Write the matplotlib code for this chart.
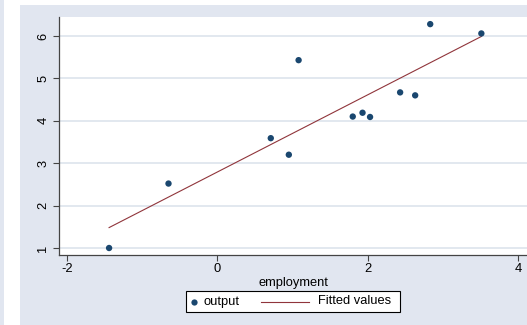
import numpy as np
import matplotlib
matplotlib.use("Agg")
import matplotlib.pyplot as plt
from matplotlib.patches import Rectangle
from matplotlib.lines import Line2D

# Observations: employment vs. output
employment = [-1.44, -0.65, 0.71, 0.95, 1.08, 1.80, 1.93, 2.03, 2.43, 2.63, 2.83, 3.51]
output = [1.00, 2.52, 3.59, 3.20, 5.43, 4.10, 4.19, 4.09, 4.67, 4.60, 6.28, 6.06]

x_ticks = [-2, 0, 2, 4]
y_ticks = [1, 2, 3, 4, 5, 6]
x_label = "employment"
legend_labels = ["output", "Fitted values"]

NAVY = "#1a476f"
MAROON = "#90353b"
REGION = "#e1e6f0"
GRID = "#dae1eb"

plt.rcParams["font.family"] = ["Liberation Sans", "DejaVu Sans"]
plt.rcParams["axes.unicode_minus"] = False
FS = 9.3

W, H = 527, 325
fig = plt.figure(figsize=(W / 100, H / 100), dpi=100)
fig.patch.set_facecolor("white")


def fx(px):
    return px / W


def fy(py):
    return 1 - py / H


# graph region background
fig.add_artist(Rectangle((0, 0), fx(4), 1, transform=fig.transFigure,
                         facecolor=REGION, edgecolor="none", zorder=0))
fig.add_artist(Rectangle((fx(20), 0), 1 - fx(20), fy(5), transform=fig.transFigure,
                         facecolor=REGION, edgecolor="none", zorder=0))

ax = fig.add_axes([fx(59), fy(255), 1 - fx(59), fy(17) - fy(255)])
ax.set_facecolor("white")

# least-squares fit
x = np.array(employment)
y = np.array(output)
slope, intercept = np.polyfit(x, y, 1)
xs = np.array([x.min(), x.max()])
ax.plot(xs, intercept + slope * xs, color=MAROON, lw=0.8, zorder=3)
ax.scatter(x, y, s=21, color=NAVY, edgecolors="none", zorder=4)

ax.set_xlim(-2.106, 4.117)
ax.set_ylim(0.835, 6.448)
ax.set_xticks(x_ticks)
ax.set_yticks(y_ticks)
ax.set_yticklabels([str(v) for v in y_ticks], rotation=90, va="center")
ax.grid(axis="y", color=GRID, lw=1.1)
ax.set_axisbelow(True)

for side in ["top", "right"]:
    ax.spines[side].set_visible(False)
for side in ["left", "bottom"]:
    ax.spines[side].set_color("#444444")
    ax.spines[side].set_linewidth(0.9)

ax.tick_params(axis="both", direction="out", length=4, width=0.8,
               color="#444444", labelsize=FS, labelcolor="black")
ax.tick_params(axis="x", pad=2)
ax.tick_params(axis="y", pad=3)
ax.set_xlabel(x_label, fontsize=FS, labelpad=1.5)

# legend box below the plot
fig.add_artist(Rectangle((fx(186), fy(312)), fx(400) - fx(186), fy(291) - fy(312),
                         transform=fig.transFigure, facecolor="white",
                         edgecolor="black", lw=0.8, zorder=5))
ly = fy(301.5)
fig.add_artist(Line2D([fx(194)], [ly], transform=fig.transFigure, marker="o",
                      markersize=4.5, color=NAVY, markeredgewidth=0, zorder=6))
fig.text(fx(204), ly, legend_labels[0], fontsize=FS, va="center", ha="left", zorder=6)
fig.add_artist(Line2D([fx(261), fx(309)], [ly, ly], transform=fig.transFigure,
                      color=MAROON, lw=0.8, zorder=6))
fig.text(fx(318), ly, legend_labels[1], fontsize=FS, va="center", ha="left", zorder=6)

fig.savefig("out.png", dpi=100)
